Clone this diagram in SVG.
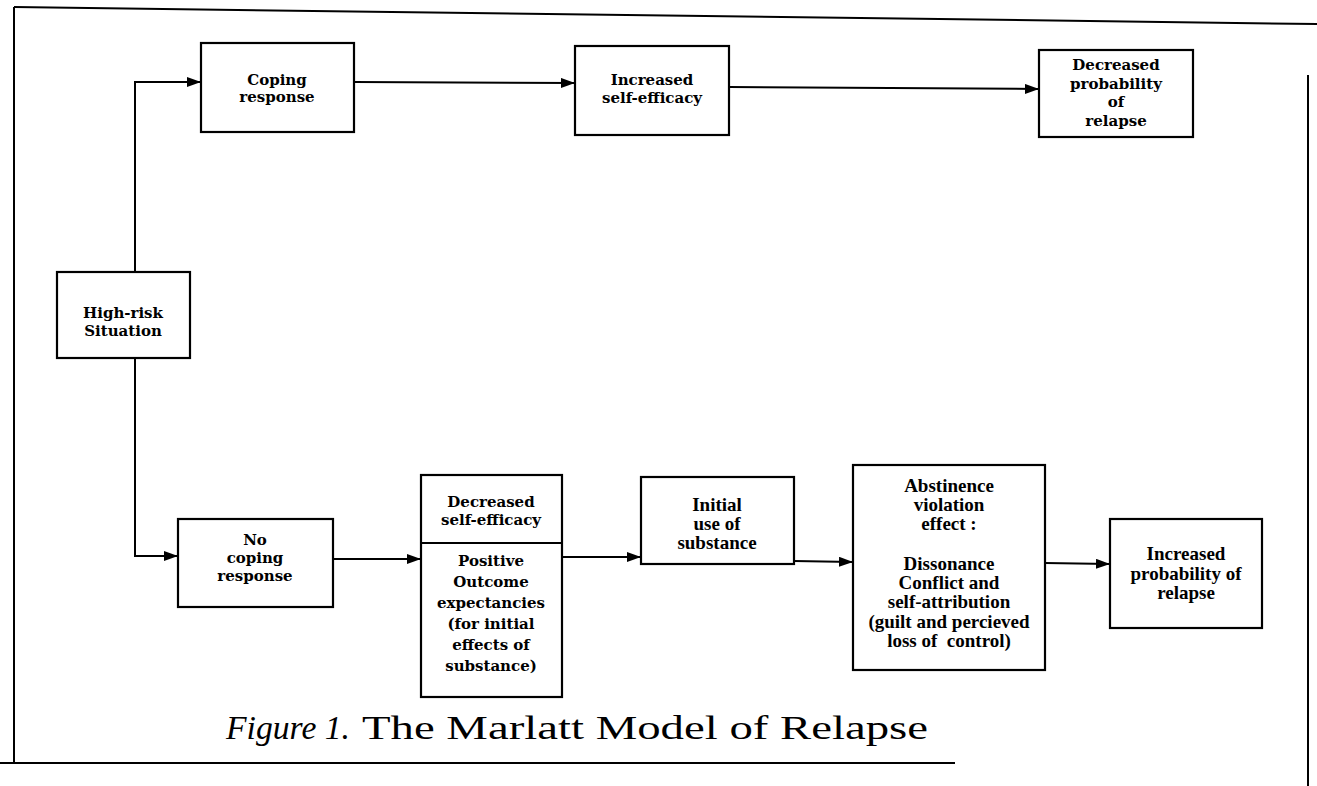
<svg xmlns="http://www.w3.org/2000/svg" width="1317" height="786" viewBox="0 0 1317 786">
<style>
.box{fill:#fff;stroke:#000;stroke-width:2.2}
.frame{fill:none;stroke:#000;stroke-width:2}
.conn{fill:none;stroke:#000;stroke-width:2}
.cs{font-family:"DejaVu Serif","Liberation Serif",serif;font-size:15px;font-weight:bold;text-anchor:middle;fill:#000}
.tm{font-family:"Liberation Serif",serif;font-size:19px;font-weight:bold;text-anchor:middle;fill:#000}
.cap{font-family:"Liberation Serif",serif;font-size:34px;fill:#000}
</style>
<defs>
<marker id="ah" viewBox="0 0 14 10" refX="14" refY="5" markerWidth="14" markerHeight="10" markerUnits="userSpaceOnUse" orient="auto">
<path d="M0,0 L14,5 L0,10 Z" fill="#000"/>
</marker>
</defs>
<g id="frame">
<path class="frame" d="M14,7 L1317,24"/>
<path class="frame" d="M14,7 L14,763"/>
<path class="frame" d="M0,763 L955,763"/>
<path class="frame" d="M1308,75 L1308,786"/>
</g>
<g id="connectors">
<path class="conn" d="M135,272 L135,82 L201,82" marker-end="url(#ah)"/>
<path class="conn" d="M354,82 L575,83" marker-end="url(#ah)"/>
<path class="conn" d="M729,87 L1039,89" marker-end="url(#ah)"/>
<path class="conn" d="M135,358 L135,556 L178,556" marker-end="url(#ah)"/>
<path class="conn" d="M333,559 L421,559" marker-end="url(#ah)"/>
<path class="conn" d="M562,557 L641,557" marker-end="url(#ah)"/>
<path class="conn" d="M794,561 L853,562" marker-end="url(#ah)"/>
<path class="conn" d="M1045,563 L1110,564" marker-end="url(#ah)"/>
</g>
<g id="high-risk">
<rect class="box" x="57" y="272" width="133" height="86"/>
<text class="cs" x="123" y="318">High-risk</text>
<text class="cs" x="123" y="336">Situation</text>
</g>
<g id="coping">
<rect class="box" x="201" y="43" width="153" height="89"/>
<text class="cs" x="277" y="85">Coping</text>
<text class="cs" x="277" y="102">response</text>
</g>
<g id="inc-efficacy">
<rect class="box" x="575" y="46" width="154" height="89"/>
<text class="cs" x="652" y="85">Increased</text>
<text class="cs" x="652" y="103">self-efficacy</text>
</g>
<g id="dec-prob">
<rect class="box" x="1039" y="50" width="154" height="87"/>
<text class="cs" x="1116" y="70">Decreased</text>
<text class="cs" x="1116" y="89">probability</text>
<text class="cs" x="1116" y="107">of</text>
<text class="cs" x="1116" y="126">relapse</text>
</g>
<g id="no-coping">
<rect class="box" x="178" y="519" width="155" height="88"/>
<text class="cs" x="255" y="545">No</text>
<text class="cs" x="255" y="563">coping</text>
<text class="cs" x="255" y="581">response</text>
</g>
<g id="dec-efficacy">
<rect class="box" x="421" y="475" width="141" height="222"/>
<path class="conn" d="M421,543 L562,543"/>
<text class="cs" x="491" y="507">Decreased</text>
<text class="cs" x="491" y="525">self-efficacy</text>
<text class="cs" x="491" y="566">Positive</text>
<text class="cs" x="491" y="587">Outcome</text>
<text class="cs" x="491" y="608">expectancies</text>
<text class="cs" x="491" y="629">(for initial</text>
<text class="cs" x="491" y="650">effects of</text>
<text class="cs" x="491" y="671">substance)</text>
</g>
<g id="initial-use">
<rect class="box" x="641" y="477" width="153" height="87"/>
<text class="tm" x="717" y="511">Initial</text>
<text class="tm" x="717" y="530">use of</text>
<text class="tm" x="717" y="549">substance</text>
</g>
<g id="ave">
<rect class="box" x="853" y="465" width="192" height="205"/>
<text class="tm" x="949" y="492">Abstinence</text>
<text class="tm" x="949" y="511">violation</text>
<text class="tm" x="949" y="530">effect :</text>
<text class="tm" x="949" y="570">Dissonance</text>
<text class="tm" x="949" y="589">Conflict and</text>
<text class="tm" x="949" y="608">self-attribution</text>
<text class="tm" x="949" y="628">(guilt and percieved</text>
<text class="tm" x="949" y="647">loss of&#160; control)</text>
</g>
<g id="inc-prob">
<rect class="box" x="1110" y="519" width="152" height="109"/>
<text class="tm" x="1186" y="560">Increased</text>
<text class="tm" x="1186" y="580">probability of</text>
<text class="tm" x="1186" y="599">relapse</text>
</g>
<g id="caption">
<text class="cap" x="226" y="739" font-style="italic" textLength="124" lengthAdjust="spacingAndGlyphs">Figure 1.</text>
<text class="cap" x="362" y="739" textLength="566" lengthAdjust="spacingAndGlyphs">The Marlatt Model of Relapse</text>
</g>
</svg>
